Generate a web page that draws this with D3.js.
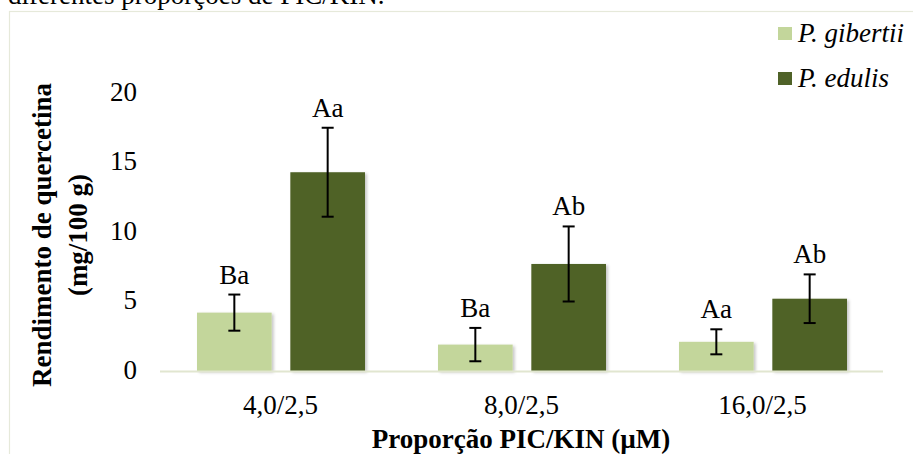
<!DOCTYPE html>
<html>
<head>
<meta charset="utf-8">
<script src="https://cdn.jsdelivr.net/npm/d3@7/dist/d3.min.js"></script>
<style>
  html, body { margin: 0; padding: 0; background: #fff; }
  svg { display: block; }
  text { font-family: "Liberation Serif", "Times New Roman", serif; fill: #000; }
</style>
</head>
<body>
<svg id="chart" width="913" height="454"></svg>
<script>
const categories = ["4,0/2,5", "8,0/2,5", "16,0/2,5"];
const seriesNames = ["P. gibertii", "P. edulis"];
const gibertii = [4.2, 1.9, 2.1];
const gibertiiErr = [1.3, 1.2, 0.9];
const edulis = [14.3, 7.7, 5.2];
const edulisErr = [3.2, 2.7, 1.75];
const gibertiiLetters = ["Ba", "Ba", "Aa"];
const edulisLetters = ["Aa", "Ab", "Ab"];
const yTicks = [0, 5, 10, 15, 20];
const colors = ["#c3d69b", "#4f6228"];

const series = [
  {name: seriesNames[0], values: gibertii, err: gibertiiErr, letters: gibertiiLetters, color: colors[0]},
  {name: seriesNames[1], values: edulis, err: edulisErr, letters: edulisLetters, color: colors[1]}
];

const svg = d3.select("#chart");
const FS = 27;

// defs: shadow
const defs = svg.append("defs");
const f = defs.append("filter").attr("id", "shadow").attr("x", "-10%").attr("y", "-10%").attr("width", "130%").attr("height", "130%");
f.append("feDropShadow").attr("dx", 2).attr("dy", 1.5).attr("stdDeviation", 1.5).attr("flood-color", "#000").attr("flood-opacity", 0.22);

// caption cut at top
svg.append("text").attr("x", 8).attr("y", 4).attr("font-size", FS)
  .text("diferentes proporções de PIC/KIN.");

// chart frame
svg.append("rect").attr("x", 9.5).attr("y", 11.5).attr("width", 930).attr("height", 460)
  .attr("fill", "none").attr("stroke", "#e6e9da").attr("stroke-width", 1.2);

const x0 = d3.scaleBand().domain(categories).range([160, 883]);
const x1 = d3.scaleBand().domain(seriesNames).range([37, 205]).paddingInner(0.2);
const y = d3.scaleLinear().domain([0, 20]).range([371, 93]);

// y tick labels
const yAxis = d3.axisLeft(y).tickValues(yTicks).tickSize(0).tickPadding(0).tickFormat(d3.format("d"));
const gy = svg.append("g").attr("transform", "translate(137,0)").call(yAxis);
gy.select(".domain").remove();
gy.selectAll("text").attr("font-size", FS).attr("font-family", "Liberation Serif, serif").attr("fill", "#000").attr("dy", "0.26em");

// bars
const groups = svg.append("g").selectAll("g").data(categories).join("g")
  .attr("transform", d => `translate(${x0(d)},0)`);

series.forEach(s => {
  groups.append("rect")
    .attr("x", (d) => x1(s.name))
    .attr("y", (d, i) => y(s.values[i]))
    .attr("width", x1.bandwidth())
    .attr("height", (d, i) => y(0) - y(s.values[i]))
    .attr("fill", s.color)
    .attr("filter", "url(#shadow)");
});

// baseline
svg.append("line").attr("x1", 160).attr("x2", 883).attr("y1", y(0) + 0.5).attr("y2", y(0) + 0.5)
  .attr("stroke", "#e1e6d0").attr("stroke-width", 2);

// error bars + letters
series.forEach(s => {
  const cx = d => x1(s.name) + x1.bandwidth() / 2;
  groups.append("line").attr("x1", cx).attr("x2", cx)
    .attr("y1", (d, i) => y(s.values[i] + s.err[i]))
    .attr("y2", (d, i) => y(s.values[i] - s.err[i]))
    .attr("stroke", "#000").attr("stroke-width", 2);
  [1, -1].forEach(sign => {
    groups.append("line").attr("x1", d => cx(d) - 6).attr("x2", d => cx(d) + 6)
      .attr("y1", (d, i) => y(s.values[i] + sign * s.err[i]))
      .attr("y2", (d, i) => y(s.values[i] + sign * s.err[i]))
      .attr("stroke", "#000").attr("stroke-width", 2);
  });
  groups.append("text").attr("x", cx).attr("text-anchor", "middle")
    .attr("y", (d, i) => y(s.values[i] + s.err[i]) - 11)
    .attr("font-size", FS)
    .text((d, i) => s.letters[i]);
});

// x tick labels
const xAxis = d3.axisBottom(x0).tickSize(0).tickPadding(0);
const gx = svg.append("g").attr("transform", "translate(0,414)").call(xAxis);
gx.select(".domain").remove();
gx.selectAll("text").attr("font-size", FS).attr("font-family", "Liberation Serif, serif").attr("fill", "#000").attr("dy", 0);

// axis titles
svg.append("text").attr("x", 521).attr("y", 448).attr("text-anchor", "middle")
  .attr("font-size", FS).attr("font-weight", "bold").text("Proporção PIC/KIN (µM)");

const yt = svg.append("g").attr("transform", "translate(0,235) rotate(-90)");
yt.append("text").attr("x", 0).attr("y", 51).attr("text-anchor", "middle")
  .attr("font-size", FS).attr("font-weight", "bold").text("Rendimento de quercetina");
yt.append("text").attr("x", 0).attr("y", 87).attr("text-anchor", "middle")
  .attr("font-size", FS).attr("font-weight", "bold").text("(mg/100 g)");

// legend
const lg = svg.append("g").selectAll("g").data(series).join("g")
  .attr("transform", (d, i) => `translate(778,${27 + i * 45})`);
lg.append("rect").attr("width", 14).attr("height", 13).attr("fill", d => d.color);
lg.append("text").attr("x", 20).attr("y", 15).attr("font-size", FS).attr("font-style", "italic")
  .text(d => d.name);
</script>
</body>
</html>
